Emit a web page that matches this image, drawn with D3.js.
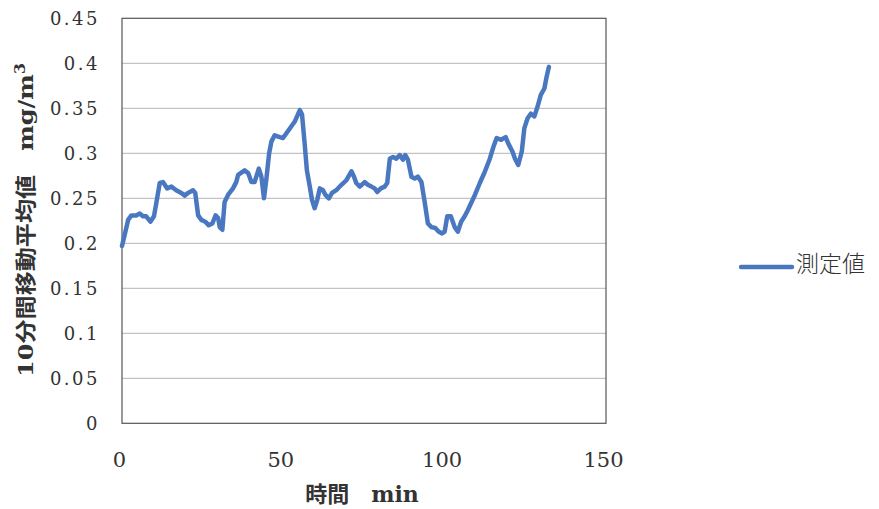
<!DOCTYPE html>
<html><head><meta charset="utf-8">
<script src="https://cdn.jsdelivr.net/npm/d3@7"></script>
<style>
html,body{margin:0;padding:0;background:#fff;}
svg{display:block;}
</style></head>
<body>
<div id="chart"></div>
<script>
// ---- data ----
const times = [0,0.8,1.9,2.9,4.4,5.5,6.5,7.5,8.8,9.9,10.6,11.7,12.7,14.0,15.3,16.8,18.4,19.4,20.5,22.0,22.7,23.6,24.6,25.8,26.9,28.0,29.0,29.8,30.3,31.1,31.8,32.9,34.4,35.4,36.0,38.0,39.1,40.1,41.1,42.4,43.2,44.0,44.7,45.6,46.3,47.3,48.9,49.9,50.9,52.5,53.5,54.5,55.1,55.8,56.6,57.3,58.2,58.9,59.7,60.5,61.3,62.3,63.0,64.1,65.1,66.4,68.0,69.5,71.1,71.9,72.6,73.7,75.2,76.2,77.3,78.3,79.1,80.2,81.4,82.2,83.0,84.0,85.0,86.1,87.1,87.8,88.6,89.7,90.7,91.7,92.8,93.8,94.8,95.9,97.1,98.1,99.2,100.0,100.8,101.9,103.1,104.1,105.1,106.2,107.2,108.5,109.4,110.9,112.5,114.0,115.1,116.1,117.5,118.9,119.7,121.0,121.8,122.8,123.9,124.7,125.7,126.7,127.8,128.8,129.8,130.9,131.6,132.3];
const values = [0.197,0.209,0.226,0.231,0.231,0.233,0.230,0.230,0.224,0.230,0.244,0.267,0.268,0.261,0.263,0.259,0.256,0.253,0.256,0.259,0.256,0.231,0.226,0.224,0.220,0.222,0.231,0.228,0.218,0.215,0.246,0.254,0.261,0.268,0.276,0.281,0.278,0.268,0.268,0.283,0.274,0.250,0.270,0.300,0.313,0.320,0.318,0.317,0.322,0.330,0.335,0.343,0.348,0.343,0.311,0.281,0.263,0.248,0.239,0.248,0.261,0.259,0.254,0.250,0.256,0.259,0.265,0.270,0.280,0.274,0.267,0.263,0.268,0.265,0.263,0.261,0.257,0.261,0.263,0.267,0.294,0.296,0.294,0.298,0.293,0.298,0.293,0.274,0.272,0.274,0.268,0.246,0.222,0.218,0.217,0.213,0.211,0.213,0.230,0.230,0.218,0.213,0.224,0.230,0.237,0.247,0.254,0.267,0.280,0.294,0.307,0.317,0.315,0.318,0.311,0.302,0.294,0.287,0.302,0.328,0.339,0.344,0.341,0.352,0.365,0.372,0.385,0.396];
const xTicks = [0,50,100,150];
const xTickLabels = ["0","50","100","150"];
const yTicks = [0,0.05,0.1,0.15,0.2,0.25,0.3,0.35,0.4,0.45];
const yTickLabels = ["0","0.05","0.1","0.15","0.2","0.25","0.3","0.35","0.4","0.45"];
const seriesName = "測定値";
const xTitle = "時間　min";
const yTitleMain = "10分間移動平均値　mg/m";
const yTitleSup = "3";

// ---- layout ----
const W = 879, H = 509;
const L = 122, R = 606, T = 18.3, B = 423.3;
const lineColor = "#4a78c0";

const svg = d3.select("#chart").append("svg").attr("width", W).attr("height", H);
const x = d3.scaleLinear().domain([0,150]).range([L,R]);
const y = d3.scaleLinear().domain([0,0.45]).range([B,T]);

// gridlines
svg.append("g").selectAll("line").data(yTicks.filter(d => d > 0 && d < 0.45)).join("line")
  .attr("x1", L).attr("x2", R).attr("y1", d => y(d)).attr("y2", d => y(d))
  .attr("stroke", "#b4b4b4").attr("stroke-width", 1);

// border
svg.append("rect").attr("x", L).attr("y", T).attr("width", R-L).attr("height", B-T)
  .attr("fill", "none").attr("stroke", "#555").attr("stroke-width", 1.2);

// y tick labels
svg.append("g").selectAll("text").data(yTicks).join("text")
  .attr("x", 100).attr("y", d => y(d) + 6.5)
  .attr("text-anchor", "end")
  .attr("font-family", "'DejaVu Serif', serif").attr("font-size", 18)
  .attr("letter-spacing", "2.5px")
  .attr("fill", "#333")
  .text((d,i) => yTickLabels[i]);

// x tick labels
svg.append("g").selectAll("text").data(xTicks).join("text")
  .attr("x", d => x(d) - 2.5).attr("y", 467)
  .attr("text-anchor", "middle")
  .attr("font-family", "'DejaVu Serif', serif").attr("font-size", 21)
  .attr("fill", "#333")
  .text((d,i) => xTickLabels[i]);

// line
const pts = times.map((t,i) => [t, values[i]]);
svg.append("path").datum(pts)
  .attr("d", d3.line().x(d => x(d[0])).y(d => y(d[1])))
  .attr("fill", "none").attr("stroke", lineColor).attr("stroke-width", 4.5)
  .attr("stroke-linejoin", "round").attr("stroke-linecap", "round");

// x title
svg.append("text").attr("x", 362).attr("y", 502).attr("text-anchor", "middle")
  .attr("font-family", "'DejaVu Serif', 'Noto Sans CJK JP', serif").attr("font-weight", "bold")
  .attr("font-size", 22).attr("fill", "#333").text(xTitle);

// y title
const yt = svg.append("text").attr("transform", "translate(33,220) rotate(-90)")
  .attr("text-anchor", "middle")
  .attr("font-family", "'DejaVu Serif', 'Noto Sans CJK JP', serif").attr("font-weight", "bold")
  .attr("font-size", 21).attr("fill", "#333")
  .attr("textLength", 314).attr("lengthAdjust", "spacingAndGlyphs");
yt.append("tspan").text(yTitleMain);
yt.append("tspan").attr("dy", -8).attr("font-size", 14).text(yTitleSup);

// legend
svg.append("line").attr("x1", 741).attr("x2", 792).attr("y1", 267).attr("y2", 267)
  .attr("stroke", lineColor).attr("stroke-width", 4.5).attr("stroke-linecap", "round");
svg.append("text").attr("x", 796).attr("y", 272)
  .attr("font-family", "'Noto Sans CJK JP', sans-serif").attr("font-size", 23)
  .attr("font-weight", 300).attr("fill", "#333").text(seriesName);
</script>
</body></html>
